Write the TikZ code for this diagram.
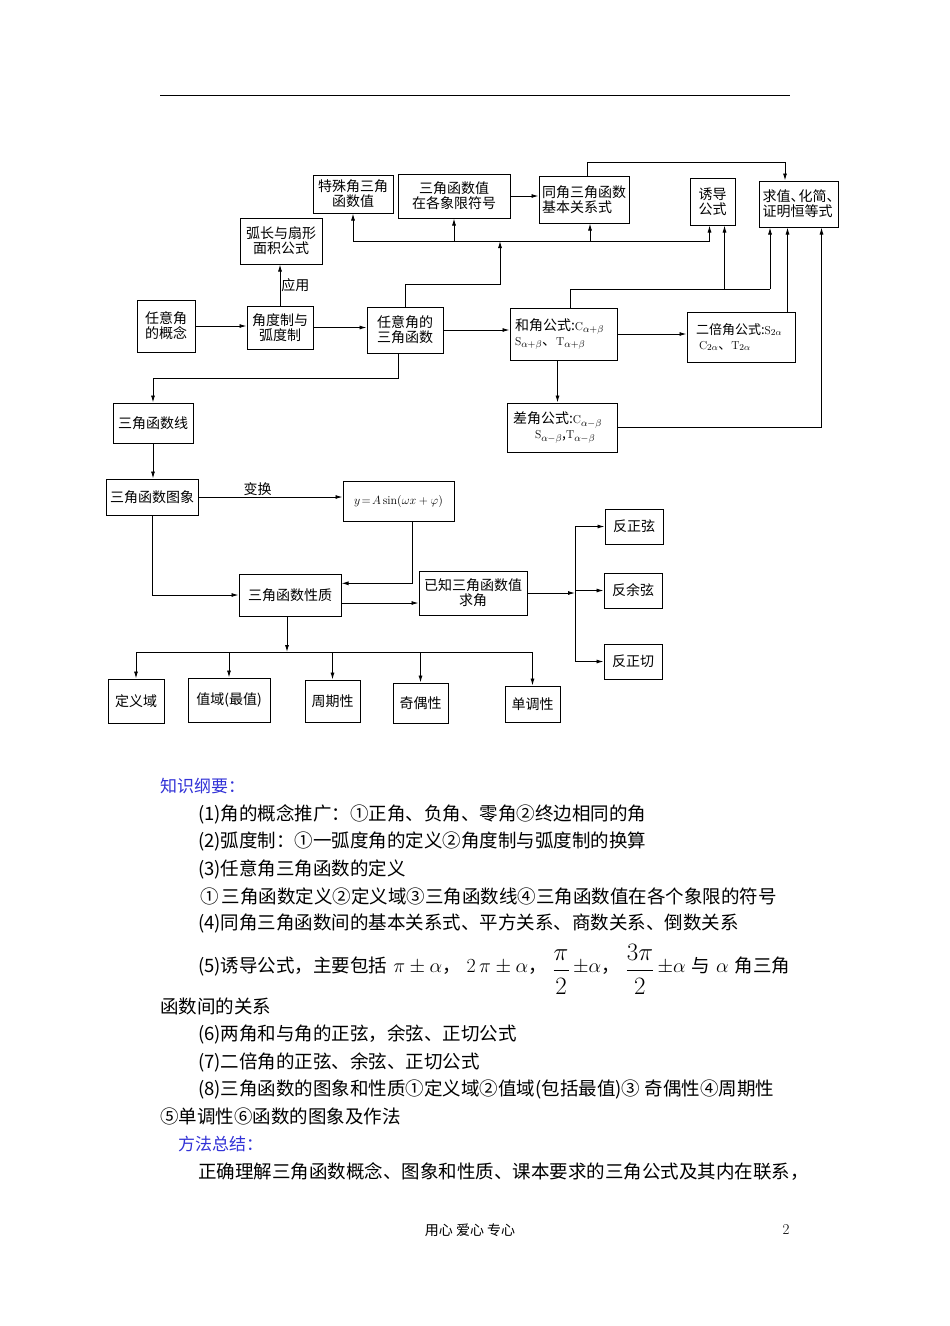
\RequirePackage{fix-cm}
\documentclass[tikz,border=0pt]{standalone}
\usepackage{amsmath}
\usepackage{fontspec}
\newfontfamily\cjk{Noto Sans CJK SC}
\usetikzlibrary{
    arrows.meta,
    positioning,
    calc,
}
\definecolor{headblue}{RGB}{50,50,215}
\newcommand{\fsub}[2]{{\rmfamily\fontsize{11.5}{12}\selectfont #1}$_{#2}$}

\begin{document}
\begin{tikzpicture}[
    x=1pt, y=-1pt,
    box/.style={draw, line width=1pt, inner sep=0pt, align=center, font=\cjk\fontsize{14}{15}\selectfont},
    leftbox/.style={box, align=left},
    link/.style={line width=0.9pt},
    arrow/.style={link, -{Latex[length=7pt,width=4pt]}},
    tag/.style={inner sep=1pt, font=\cjk\fontsize{14}{15}\selectfont},
    body/.style={anchor=west, inner sep=0pt, font=\cjk\fontsize{18.5}{20}\selectfont},
    head/.style={body, text=headblue, font=\cjk\fontsize{17}{20}\selectfont},
]

\useasboundingbox[fill=white] (0,0) rectangle (950,1326);

% page rule
\draw[line width=1pt] (160,95) -- (790,95);

% top row
\node[box, minimum width=80pt, minimum height=38pt] (special) at (353,194) {特殊角三角\\函数值};
\node[box, minimum width=112pt, minimum height=44pt] (quadsign) at (454,196) {三角函数值\\在各象限符号};
\node[leftbox, minimum width=90pt, minimum height=47pt] (samerel) at (584,199.5) {同角三角函数\\基本关系式};
\node[box, minimum width=45pt, minimum height=47pt] (induced) at (712.5,201.5) {诱导\\公式};
\node[leftbox, minimum width=79pt, minimum height=46pt] (evaluate) at (798.5,204) {求值、\kern-6pt化简、\kern-6pt\\证明恒等式};
\node[box, minimum width=82pt, minimum height=46pt] (arclen) at (281,241) {弧长与扇形\\面积公式};

% middle row
\node[box, minimum width=58pt, minimum height=52pt] (concept) at (166,326) {任意角\\的概念};
\node[box, minimum width=66pt, minimum height=43pt] (radian) at (280,327.5) {角度制与\\弧度制};
\node[box, minimum width=76pt, minimum height=46pt] (trig) at (405,330) {任意角的\\三角函数};
\node[leftbox, inner xsep=5pt, text width=97pt, minimum height=52pt] (sum) at (563.5,334)
    {和角公式:\fsub{C}{\alpha+\beta}\\\fsub{S}{\alpha+\beta}、\fsub{T}{\alpha+\beta}};
\node[leftbox, inner xsep=9pt, text width=90pt, minimum height=50pt, font=\cjk\fontsize{13}{15}\selectfont] (double) at (741,337)
    {二倍角公式:\fsub{S}{2\alpha}\\\hspace{3pt}\fsub{C}{2\alpha}、\fsub{T}{2\alpha}};
\node[leftbox, inner xsep=6pt, text width=98pt, minimum height=49pt] (diff) at (562,427.5)
    {差角公式:\fsub{C}{\alpha-\beta}\\\hspace{22pt}\fsub{S}{\alpha-\beta},\fsub{T}{\alpha-\beta}};

% left column
\node[box, minimum width=80pt, minimum height=40pt] (tline) at (153,423) {三角函数线};
\node[box, minimum width=92pt, minimum height=36pt] (graph) at (152,497) {三角函数图象};
\node[box, minimum width=111pt, minimum height=40pt, font=\fontsize{12}{13}\selectfont] (sinus) at (398.5,501)
    {$y\!=\!A\,\mathrm{sin}(\omega x+\varphi)$};
\node[box, minimum width=102pt, minimum height=42pt] (props) at (290,595) {三角函数性质};
\node[box, minimum width=108pt, minimum height=44pt] (known) at (473,593) {已知三角函数值\\求角};

% inverse functions
\node[box, minimum width=58pt, minimum height=35pt] (arcsin) at (634,526.5) {反正弦};
\node[box, minimum width=58pt, minimum height=35pt] (arccos) at (633,590.5) {反余弦};
\node[box, minimum width=58pt, minimum height=35pt] (arctan) at (633,661.5) {反正切};

% properties
\node[box, minimum width=56pt, minimum height=44pt] (domain) at (136,701) {定义域};
\node[box, minimum width=82pt, minimum height=44pt] (range) at (229,700) {值域(最值)};
\node[box, minimum width=55pt, minimum height=42pt] (period) at (332.5,701) {周期性};
\node[box, minimum width=55pt, minimum height=40pt] (parity) at (420.5,703) {奇偶性};
\node[box, minimum width=55pt, minimum height=36pt] (mono) at (532.5,704) {单调性};

% junctions
\coordinate (bus1) at (500,241);
\coordinate (bus2) at (770,289);
\coordinate (fork) at (575,593);
\coordinate (bus3) at (287,652);

% upper links
\draw[link] (special.south |- bus1) -- ([xshift=-3pt]induced.south |- bus1);
\draw[arrow] (special.south |- bus1) -- (special.south);
\draw[arrow] (quadsign.south |- bus1) -- (quadsign.south);
\draw[arrow] ([xshift=6pt]samerel.south |- bus1) -- ([xshift=6pt]samerel.south);
\draw[arrow] ([xshift=-3pt]induced.south |- bus1) -- ([xshift=-3pt]induced.south);
\draw[arrow] (trig.north) -- ++(0,-22) -| (bus1);
\draw[arrow] (quadsign.east) -- (quadsign.east -| samerel.west);
\draw[arrow] ([xshift=3pt]samerel.north) -- ++(0,-13) -| ([xshift=-13.5pt]evaluate.north);

\draw[link] ([xshift=6.5pt]sum.north) |- (bus2);
\draw[arrow] (bus2) -- ([xshift=-28.5pt]evaluate.south);
\draw[arrow] ([xshift=12pt]induced.south |- bus2) -- ([xshift=12pt]induced.south);
\draw[arrow] ([xshift=-11pt]evaluate.south |- double.north) -- ([xshift=-11pt]evaluate.south);
\draw[arrow] (diff.east) -| ([xshift=23pt]evaluate.south);

\draw[arrow] (concept.east) -- (concept.east -| radian.west);
\draw[arrow] (radian.east) -- (radian.east -| trig.west);
\draw[arrow] (trig.east) -- (trig.east -| sum.west);
\draw[arrow] (sum.east) -- (sum.east -| double.west);
\draw[arrow] ([xshift=-6pt]sum.south) -- ([xshift=-6pt]sum.south |- diff.north);
\draw[arrow] (radian.north) -- node[tag, right] (apply) {应用} (radian.north |- arclen.south);

% lower links
\draw[arrow] ([xshift=-7pt]trig.south) -- ++(0,25) -| (tline.north);
\draw[arrow] (tline.south) -- (tline.south |- graph.north);
\draw[arrow] (graph.east) -- node[tag, above, pos=0.41] (transform) {变换} (graph.east -| sinus.west);
\draw[arrow] (graph.south) |- (props.west);
\draw[arrow] ([xshift=14pt]sinus.south) |- ([yshift=11.7pt]props.east);
\draw[arrow] ([yshift=-8pt]props.east) -- ([yshift=-8pt]props.east -| known.west);

\draw[arrow] (known.east) -- (fork);
\draw[link] (fork |- arcsin.west) -- (fork |- arctan.west);
\draw[arrow] (fork |- arcsin.west) -- (arcsin.west);
\draw[arrow] (fork |- arccos.west) -- (arccos.west);
\draw[arrow] (fork |- arctan.west) -- (arctan.west);

\draw[arrow] ([xshift=-3pt]props.south) -- (bus3);
\draw[link] (domain.north |- bus3) -- (mono.north |- bus3);
\draw[arrow] (domain.north |- bus3) -- (domain.north);
\draw[arrow] (range.north |- bus3) -- (range.north);
\draw[arrow] (period.north |- bus3) -- (period.north);
\draw[arrow] (parity.north |- bus3) -- (parity.north);
\draw[arrow] (mono.north |- bus3) -- (mono.north);

% outline text
\node[head] (outline) at (160,786) {知识纲要：};
\node[body] (item1) at (198,814) {(1)角的概念推广：①正角、负角、零角②终边相同的角};
\node[body] (item2) at (198,841) {(2)弧度制：①一弧度角的定义②角度制与弧度制的换算};
\node[body] (item3) at (198,869) {(3)任意角三角函数的定义};
\node[body] (item3b) at (200,896) {①\,三角函数定义②定义域③三角函数线④三角函数值在各个象限的符号};
\node[body] (item4) at (198,923) {(4)同角三角函数间的基本关系式、平方关系、商数关系、倒数关系};
\node[body, anchor=base west] (item5) at (198,972) {\makebox[592pt][s]{(5)诱导公式，主要包括\hfill
    {\fontsize{20}{22}\selectfont$\pi\pm\alpha$}，\hfill{\fontsize{20}{22}\selectfont$2\,\pi\pm\alpha$}，\hfill
    \raisebox{-5pt}{\fontsize{25}{28}\selectfont$\dfrac{\pi}{2}$}{\fontsize{20}{22}\selectfont$\,\pm\alpha$}，\hfill
    \raisebox{-5pt}{\fontsize{25}{28}\selectfont$\dfrac{3\pi}{2}$}{\fontsize{20}{22}\selectfont$\,\pm\alpha$}\hfill 与\hfill
    {\fontsize{20}{22}\selectfont$\alpha$}\hfill 角三角}};
\node[body] (item5b) at (160,1006) {函数间的关系};
\node[body] (item6) at (198,1034) {(6)两角和与角的正弦，余弦、正切公式};
\node[body] (item7) at (198,1062) {(7)二倍角的正弦、余弦、正切公式};
\node[body] (item8) at (198,1089) {(8)三角函数的图象和性质①定义域②值域(包括最值)③\ 奇偶性④周期性};
\node[body] (item8b) at (160,1116) {⑤单调性⑥函数的图象及作法};
\node[head] (method) at (178,1144) {方法总结：};
\node[body] (summary) at (198,1172) {正确理解三角函数概念、图象和性质、课本要求的三角公式及其内在联系，};

% footer
\node[tag] (motto) at (470,1230) {用心\ 爱心\ 专心};
\node[inner sep=0pt, font=\fontsize{15}{16}\selectfont] (pagenum) at (786,1230) {2};

\end{tikzpicture}
\end{document}
